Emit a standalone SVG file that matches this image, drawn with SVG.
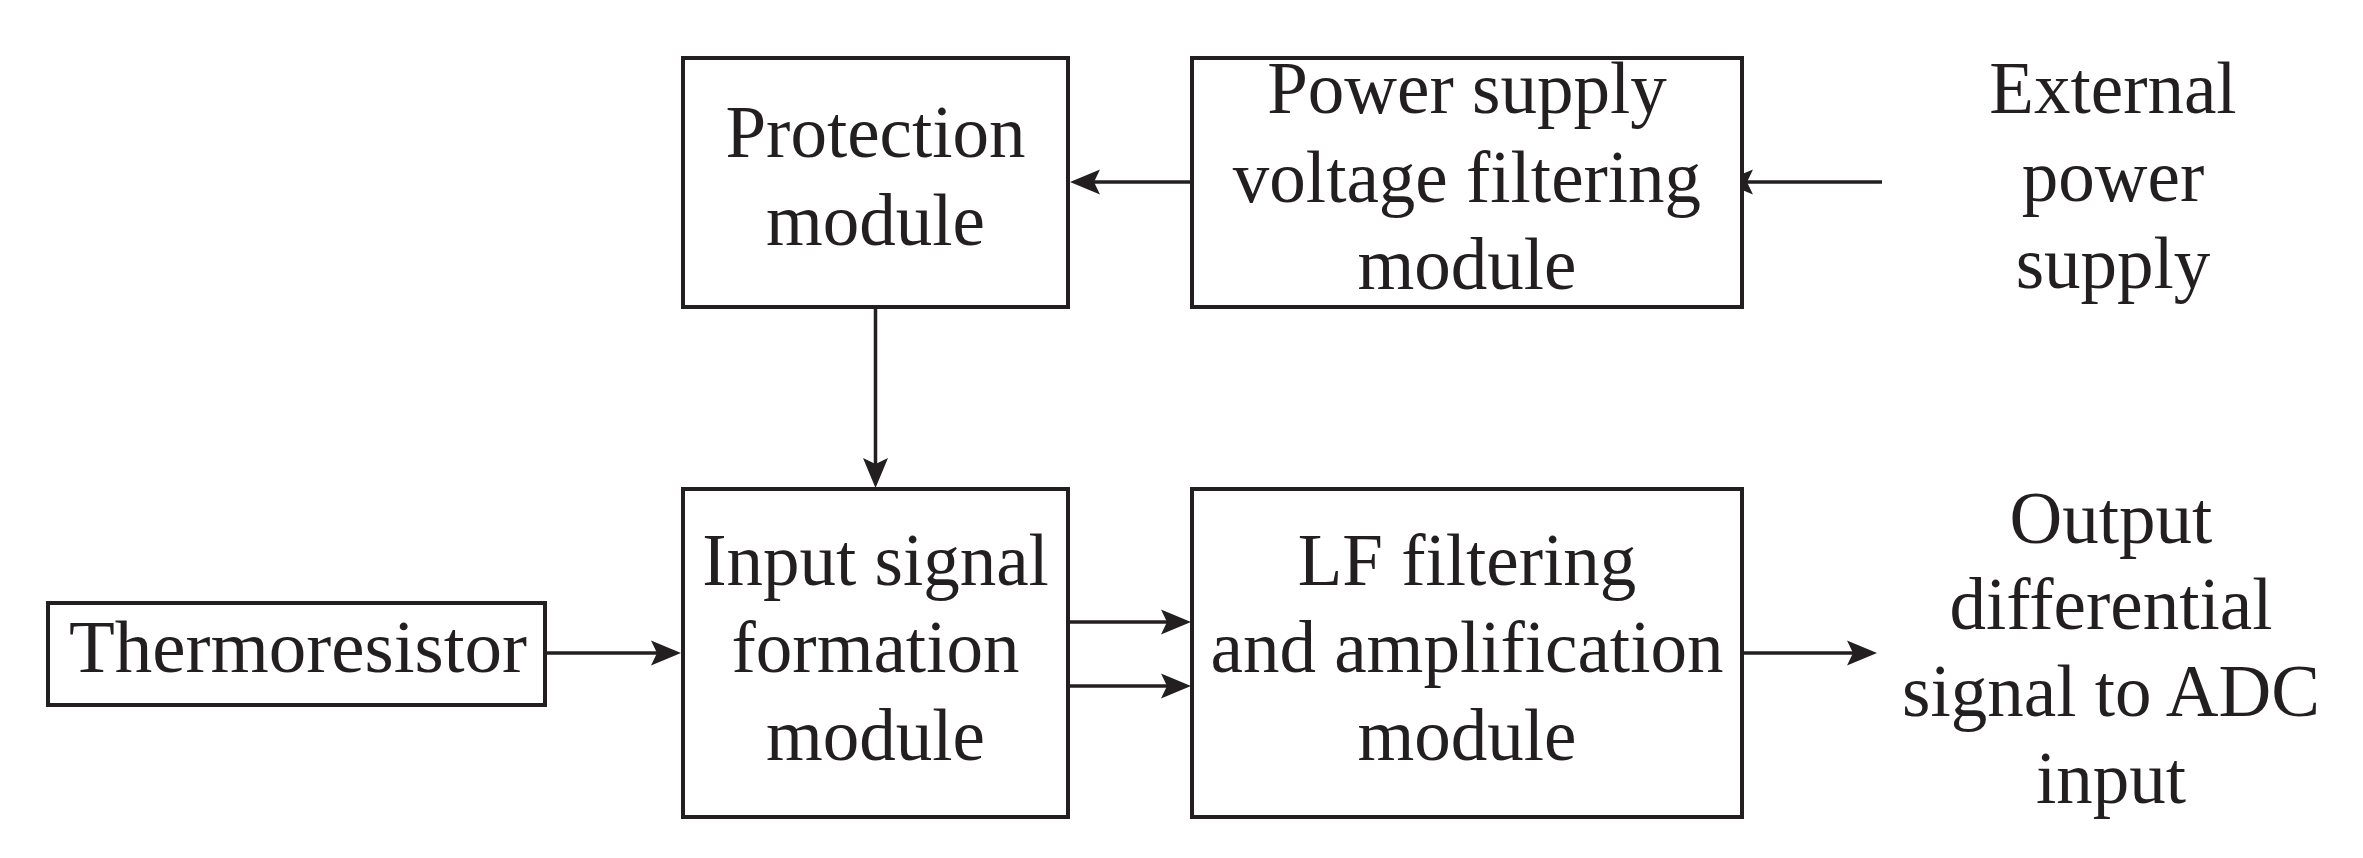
<svg xmlns="http://www.w3.org/2000/svg" width="2363" height="858" viewBox="0 0 2363 858">
<style>
.box{fill:#fff;stroke:#231f20;stroke-width:4}
.lbl{font-family:"Liberation Serif","Times New Roman",serif;font-size:73px;fill:#231f20;text-anchor:middle}
.con{stroke:#231f20;stroke-width:3.5;fill:none;marker-end:url(#ah)}
</style>
<defs>
<marker id="ah" markerUnits="userSpaceOnUse" markerWidth="40" markerHeight="30" refX="20" refY="0" orient="auto" overflow="visible">
<path d="M0,-12.5 L30,0 L0,12.5 L6,0 Z" fill="#231f20"/>
</marker>
</defs>
<rect width="2363" height="858" fill="#fff"/>
<g id="connectors">
<line class="con" x1="1882" y1="182" x2="1733" y2="182"/>
<line class="con" x1="1192" y1="182" x2="1080" y2="182"/>
<line class="con" x1="875.5" y1="307" x2="875.5" y2="478"/>
<line class="con" x1="545" y1="653" x2="671" y2="653"/>
<line class="con" x1="1068" y1="622" x2="1181" y2="622"/>
<line class="con" x1="1068" y1="686" x2="1181" y2="686"/>
<line class="con" x1="1742" y1="653" x2="1867" y2="653"/>
</g>
<g id="protection">
<rect class="box" x="683" y="58" width="385" height="249"/>
<text class="lbl" x="875.5" y="157">Protection</text>
<text class="lbl" x="875.5" y="245">module</text>
</g>
<g id="power-filter">
<rect class="box" x="1192" y="58" width="550" height="249"/>
<text class="lbl" x="1467" y="113">Power supply</text>
<text class="lbl" x="1467" y="202">voltage filtering</text>
<text class="lbl" x="1467" y="289">module</text>
</g>
<g id="external-power">
<text class="lbl" x="2113" y="113">External</text>
<text class="lbl" x="2113" y="201">power</text>
<text class="lbl" x="2113" y="288">supply</text>
</g>
<g id="thermoresistor">
<rect class="box" x="48" y="603" width="497" height="102"/>
<text class="lbl" x="298" y="672" style="font-size:75px">Thermoresistor</text>
</g>
<g id="input-signal">
<rect class="box" x="683" y="489" width="385" height="328"/>
<text class="lbl" x="875.5" y="585">Input signal</text>
<text class="lbl" x="875.5" y="672">formation</text>
<text class="lbl" x="875.5" y="760">module</text>
</g>
<g id="lf-filter">
<rect class="box" x="1192" y="489" width="550" height="328"/>
<text class="lbl" x="1467" y="585">LF filtering</text>
<text class="lbl" x="1467" y="672">and amplification</text>
<text class="lbl" x="1467" y="760">module</text>
</g>
<g id="output">
<text class="lbl" x="2111" y="543">Output</text>
<text class="lbl" x="2111" y="629">differential</text>
<text class="lbl" x="2111" y="716">signal to ADC</text>
<text class="lbl" x="2111" y="803">input</text>
</g>
</svg>
